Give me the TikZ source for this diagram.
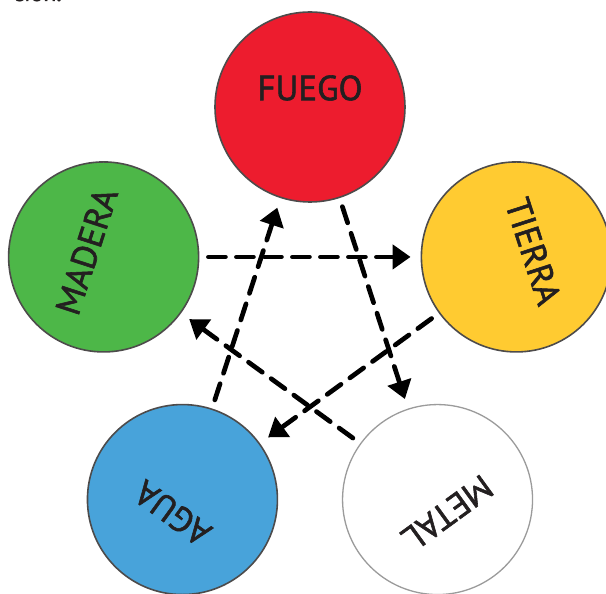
\documentclass[tikz,border=0pt]{standalone}
\usepackage{fontspec}
\setmainfont{PT Sans}
\newfontfamily\lblfont[FakeBold=1.6]{PT Sans}
\usetikzlibrary{arrows.meta}
\definecolor{fuegoc}{HTML}{ED1C2E}
\definecolor{maderac}{HTML}{4DB748}
\definecolor{tierrac}{HTML}{FFCB31}
\definecolor{aguac}{HTML}{48A3DA}
\definecolor{rimc}{HTML}{4D4B4B}
\definecolor{metalrim}{HTML}{9B9B9B}
\definecolor{inkc}{HTML}{231F20}
\begin{document}
\begin{tikzpicture}[x=1pt,y=1pt,
  elem/.style={circle, draw=rimc, line width=1.6pt, minimum size=190pt, inner sep=0pt},
  lbl/.style={text=inkc, font=\lblfont\fontsize{35}{35}\selectfont, inner sep=0pt},
  cyc/.style={line width=4.7pt, dash pattern=on 17pt off 11pt, line cap=round,
    shorten <=9pt, shorten >=10pt, -{Triangle[length=18pt,width=24pt]}}]
\useasboundingbox (-310,-270) rectangle (296,324);
\node[anchor=base west, text=inkc, font=\lblfont\fontsize{24}{24}\selectfont, inner sep=0pt] (frag) at (-297,323) {ción.};
% circles
\node[elem, fill=fuegoc] (fuego) at (90:217) {};
\node[elem, fill=maderac] (madera) at (162:217) {};
\node[elem, fill=aguac] (agua) at (234:217) {};
\node[elem, fill=white, draw=metalrim, line width=1.3pt] (metal) at (306:217) {};
\node[elem, fill=tierrac] (tierra) at (18:217) {};
% labels
\node[lbl, rotate=0] (fuegot) at (90:236) {FUEGO};
\node[lbl, rotate=72] (maderat) at (162:235) {MADERA};
\node[lbl, rotate=144] (aguat) at (234:234) {AGUA};
\node[lbl, rotate=216] (metalt) at (306:234) {METAL};
\node[lbl, rotate=-72] (tierrat) at (18:235) {TIERRA};
% cycle arrows
\draw[cyc] (madera) -- (tierra);
\draw[cyc] (fuego) -- (metal);
\draw[cyc] (tierra) -- (agua);
\draw[cyc] (metal) -- (madera);
\draw[cyc] (agua) -- (fuego);
\end{tikzpicture}
\end{document}
